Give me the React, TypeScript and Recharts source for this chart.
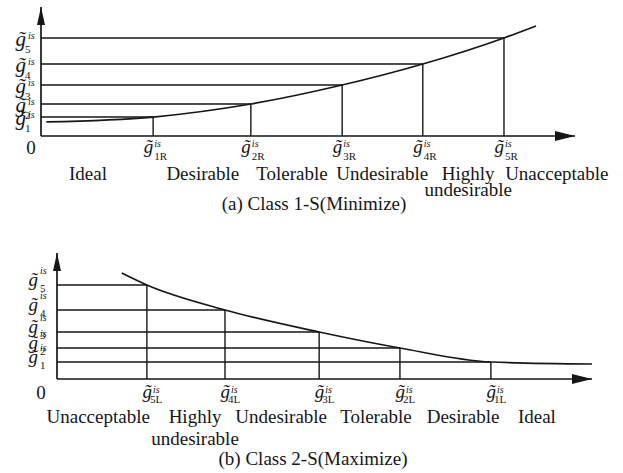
import React from 'react';
import { ComposedChart, Line, XAxis, YAxis, ReferenceLine } from 'recharts';

const FONT = '"Liberation Serif", "Times New Roman", serif';
const INK = '#161616';
const G = 'g\u0303';

// levels g1..g5 on the y axis (shared subscripts)
const levelSubs = ['1', '2', '3', '4', '5'];

// (a) Class 1-S (Minimize)
const levelsA = [14.7, 24.8, 39.5, 55.8, 76.0];
const boundsA = [21.0, 39.3, 56.4, 71.5, 86.7];
const boundSubsA = ['1R', '2R', '3R', '4R', '5R'];
const curveXA = [1, 21.0, 39.3, 56.4, 71.5, 86.7, 92.7];
const curveYA = [10.9, 14.7, 24.8, 39.5, 55.8, 76.0, 85.3];
const catPosA = [8.8, 30.3, 47.0, 63.9, 80.0, 96.6];
const catLabelsA = [['Ideal'], ['Desirable'], ['Tolerable'], ['Undesirable'], ['Highly', 'undesirable'], ['Unacceptable']];
const titleA = '(a) Class 1-S(Minimize)';

// (b) Class 2-S (Maximize)
const levelsB = [13.5, 24.6, 37.3, 54.8, 74.6];
const boundsB = [81.1, 64.1, 49.0, 31.4, 16.8];
const boundSubsB = ['1L', '2L', '3L', '4L', '5L'];
const curveXB = [12.1, 16.8, 31.4, 49.0, 64.1, 81.1, 100];
const curveYB = [84.1, 74.6, 54.8, 37.3, 24.6, 13.5, 11.9];
const catPosB = [7.7, 25.8, 41.9, 59.6, 75.9, 89.7];
const catLabelsB = [['Unacceptable'], ['Highly', 'undesirable'], ['Undesirable'], ['Tolerable'], ['Desirable'], ['Ideal']];
const titleB = '(b) Class 2-S(Maximize)';

type Look = {
  zeroDx: number; zeroDy: number;
  xgDx: number; xgDy: number; xsupDx: number; xsupDy: number; xsubDx: number; xsubDy: number;
  rowDy: number; lineGap: number;
  ygSize: number; ygDx: number; ygDy: number; ysupDx: number; ysupDy: number; ysubDx: number; ysubDy: number;
};

const lookA: Look = {
  zeroDx: -10, zeroDy: 18,
  xgDx: 0, xgDy: 17, xsupDx: 1, xsupDy: 11, xsubDx: 1, xsubDy: 24,
  rowDy: 44, lineGap: 16,
  ygSize: 21, ygDx: -15, ygDy: 8, ysupDx: -13, ysupDy: 1, ysubDx: -16, ysubDy: 15,
};

const lookB: Look = {
  zeroDx: -16, zeroDy: 20,
  xgDx: 5, xgDy: 19, xsupDx: 6, xsupDy: 14, xsubDx: 3, xsubDy: 24,
  rowDy: 44, lineGap: 22,
  ygSize: 19, ygDx: -19, ygDy: 1, ysupDx: -17, ysupDy: -11, ysubDx: -17, ysubDy: 7,
};

interface PanelProps {
  levels: number[];
  bounds: number[];
  boundSubs: string[];
  curveX: number[];
  curveY: number[];
  catPos: number[];
  catLabels: string[][];
  height: number;
  margin: { top: number; right: number; left: number; bottom: number };
  yAxisWidth: number;
  xAxisHeight: number;
  look: Look;
}

function Panel({ levels, bounds, boundSubs, curveX, curveY, catPos, catLabels, height, margin, yAxisWidth, xAxisHeight, look }: PanelProps) {
  const data = curveX.map((x, i) => ({ x, y: curveY[i] }));
  const xTicks = [0, ...bounds, ...catPos];

  const XTick = (props: any) => {
    const { x, y, payload } = props;
    const v = payload.value;
    if (v === 0) {
      return <text x={x + look.zeroDx} y={y + look.zeroDy} textAnchor="middle" fontSize={19} fontFamily={FONT} fill={INK}>0</text>;
    }
    const bi = bounds.indexOf(v);
    if (bi >= 0) {
      return (
        <g fontFamily={FONT} fill={INK}>
          <text x={x + look.xgDx} y={y + look.xgDy} textAnchor="end" fontSize={19} fontStyle="italic">{G}</text>
          <text x={x + look.xsupDx} y={y + look.xsupDy} fontSize={10} fontStyle="italic">is</text>
          <text x={x + look.xsubDx} y={y + look.xsubDy} fontSize={11}>{boundSubs[bi]}</text>
        </g>
      );
    }
    const ci = catPos.indexOf(v);
    if (ci >= 0) {
      return (
        <text x={x} y={y + look.rowDy} textAnchor="middle" fontSize={19} fontFamily={FONT} fill={INK}>
          {catLabels[ci].map((s, i) => (
            <tspan key={i} x={x} dy={i === 0 ? 0 : look.lineGap}>{s}</tspan>
          ))}
        </text>
      );
    }
    return null;
  };

  // stacked g̃ labels sit close together, as in the source figure
  const YTick = (props: any) => {
    const { x, y, payload } = props;
    const li = levels.indexOf(payload.value);
    if (li < 0) return null;
    return (
      <g fontFamily={FONT} fill={INK}>
        <text x={x + look.ygDx} y={y + look.ygDy} textAnchor="end" fontSize={look.ygSize} fontStyle="italic">{G}</text>
        <text x={x + look.ysupDx} y={y + look.ysupDy} fontSize={10} fontStyle="italic">is</text>
        <text x={x + look.ysubDx} y={y + look.ysubDy} fontSize={11}>{levelSubs[li]}</text>
      </g>
    );
  };

  return (
    <ComposedChart width={623} height={height} data={data} margin={margin}>
      <XAxis
        type="number"
        dataKey="x"
        domain={[0, 100]}
        ticks={xTicks}
        interval={0}
        height={xAxisHeight}
        tickSize={0}
        tickMargin={0}
        tickLine={false}
        axisLine={{ stroke: INK, strokeWidth: 1.7, markerEnd: 'url(#arrowX)' }}
        tick={<XTick />}
      />
      <YAxis
        type="number"
        domain={[0, 100]}
        ticks={levels}
        interval={0}
        width={yAxisWidth}
        tickSize={0}
        tickMargin={0}
        tickLine={false}
        axisLine={{ stroke: INK, strokeWidth: 1.7, markerStart: 'url(#arrowY)' }}
        tick={<YTick />}
      />
      {levels.map((lv, i) => (
        <ReferenceLine
          key={'h' + i}
          segment={[{ x: 0, y: lv }, { x: bounds[i], y: lv }]}
          stroke={INK}
          strokeWidth={1.4}
        />
      ))}
      {levels.map((lv, i) => (
        <ReferenceLine
          key={'v' + i}
          segment={[{ x: bounds[i], y: 0 }, { x: bounds[i], y: lv }]}
          stroke={INK}
          strokeWidth={1.4}
        />
      ))}
      <Line
        type="monotone"
        dataKey="y"
        stroke={INK}
        strokeWidth={1.7}
        dot={false}
        activeDot={false}
        isAnimationActive={false}
      />
    </ComposedChart>
  );
}

export default function App() {
  return (
    <div style={{ position: 'absolute', left: 0, top: 0, width: 623, height: 473, background: '#fff', overflow: 'hidden' }}>
      <div style={{ position: 'absolute', left: 0, top: 0 }}>
        <Panel
          levels={levelsA}
          bounds={boundsA}
          boundSubs={boundSubsA}
          curveX={curveXA}
          curveY={curveYA}
          catPos={catPosA}
          catLabels={catLabelsA}
          height={225}
          margin={{ top: 7, right: 48, left: 0, bottom: 0 }}
          yAxisWidth={41}
          xAxisHeight={89}
          look={lookA}
        />
      </div>
      <div style={{ position: 'absolute', left: 0, top: 240 }}>
        <Panel
          levels={levelsB}
          bounds={boundsB}
          boundSubs={boundSubsB}
          curveX={curveXB}
          curveY={curveYB}
          catPos={catPosB}
          catLabels={catLabelsB}
          height={233}
          margin={{ top: 13, right: 31, left: 0, bottom: 0 }}
          yAxisWidth={57}
          xAxisHeight={94}
          look={lookB}
        />
      </div>
      <svg width={623} height={473} style={{ position: 'absolute', left: 0, top: 0, pointerEvents: 'none' }}>
        <defs>
          <marker id="arrowX" viewBox="0 0 20 10" markerWidth={20} markerHeight={10} refX={20} refY={5} orient="auto-start-reverse" markerUnits="userSpaceOnUse">
            <path d="M0,0 L20,5 L0,10 z" fill={INK} />
          </marker>
          <marker id="arrowY" viewBox="0 0 18 8" markerWidth={18} markerHeight={8} refX={18} refY={4} orient="auto-start-reverse" markerUnits="userSpaceOnUse">
            <path d="M0,0 L18,4 L0,8 z" fill={INK} />
          </marker>
        </defs>
        <text x={314} y={210} textAnchor="middle" fontSize={19} fontFamily={FONT} fill={INK}>{titleA}</text>
        <text x={313} y={465} textAnchor="middle" fontSize={19} fontFamily={FONT} fill={INK}>{titleB}</text>
      </svg>
    </div>
  );
}
